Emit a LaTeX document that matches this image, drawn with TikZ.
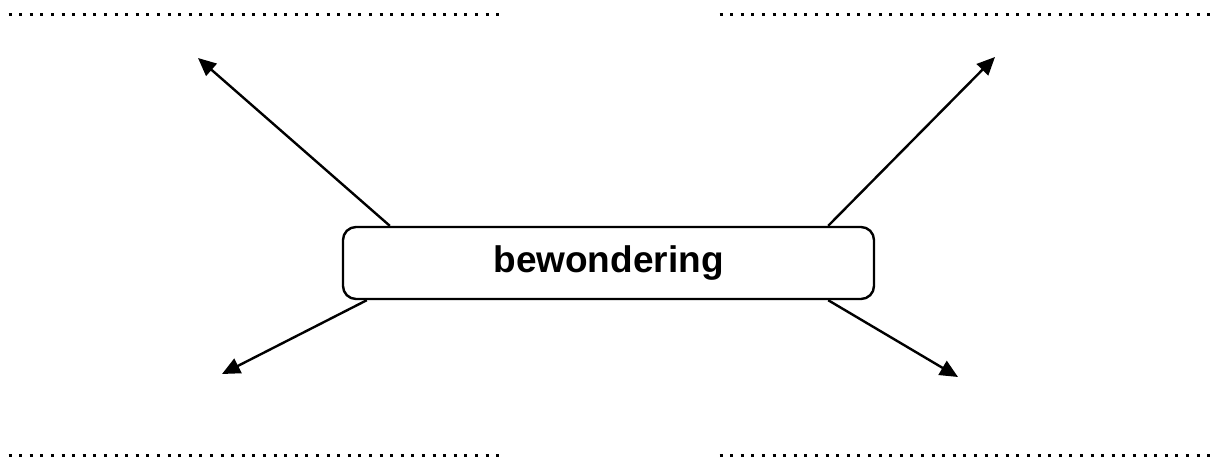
\documentclass[tikz,border=0pt]{standalone}
\usepackage{fontspec}
\setmainfont{Liberation Sans}
\usetikzlibrary{arrows.meta}
\begin{document}
\begin{tikzpicture}[x=1pt,y=-1pt,
  conn/.style={line width=2.4pt,-{Triangle[length=18pt,width=16pt]}},
  dotline/.style={line width=3pt,dash pattern=on 3pt off 7.6pt},
  mainbox/.style={draw,line width=2.4pt,rounded corners=13pt,minimum width=531pt,minimum height=72pt,inner sep=0pt,font=\fontsize{37}{44}\selectfont\bfseries}]
\useasboundingbox (0,0) rectangle (1213,461);
\node[mainbox] (box) at (608.5,263) {\raisebox{-2.5pt}{bewondering}};
\coordinate (tl) at (198,58);
\coordinate (tr) at (995,57);
\coordinate (bl) at (222,374);
\coordinate (br) at (958,377);
\draw[conn] ([xshift=48pt]box.north west) -- (tl);
\draw[conn] ([xshift=-47pt]box.north east) -- (tr);
\draw[conn] ([xshift=25pt]box.south west) -- (bl);
\draw[conn] ([xshift=-47pt]box.south east) -- (br);
\draw[dotline] (8.5,14) -- (500,14);
\draw[dotline] (719.5,14) -- (1212,14);
\draw[dotline] (8.5,455) -- (500,455);
\draw[dotline] (719.5,455) -- (1212,455);
\end{tikzpicture}
\end{document}
